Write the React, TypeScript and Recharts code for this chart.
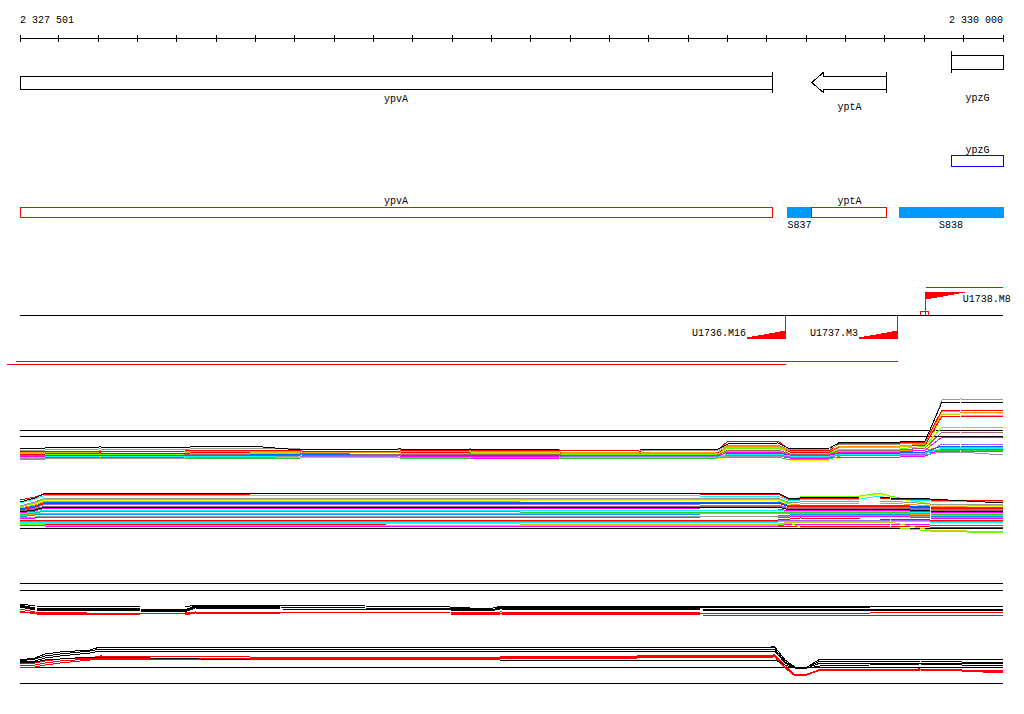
import {
  ComposedChart,
  LineChart,
  Line,
  XAxis,
  YAxis,
  ReferenceArea,
  ReferenceLine,
  ReferenceDot,
} from "recharts";

const FONT = '"Liberation Mono", "DejaVu Sans Mono", monospace';

// genome window shown
const START = 2327501;
const END = 2330000;
const AXIS_TICKS = [
  2327501, 2327600, 2327700, 2327800, 2327900, 2328000, 2328100, 2328200,
  2328300, 2328400, 2328500, 2328600, 2328700, 2328800, 2328900, 2329000,
  2329100, 2329200, 2329300, 2329400, 2329500, 2329600, 2329700, 2329800,
  2329900, 2330000,
];

// annotated genes (clipped to the window)
const GENES = ["ypvA", "yptA", "ypzG"];
const GENE_FROM = [2327501, 2329514, 2329870];
const GENE_TO = [2329413, 2329705, 2330000];
const GENE_STRAND = ["-", "-", "+"];

// second annotation row
const ALT_GENES = ["ypzG"];
const ALT_FROM = [2329870];
const ALT_TO = [2330000];

// coding regions and segments
const CDS = ["ypvA", "yptA"];
const CDS_FROM = [2327501, 2329514];
const CDS_TO = [2329413, 2329705];
const SEGMENTS = ["S837", "S838"];
const SEG_FROM = [2329451, 2329736];
const SEG_TO = [2329514, 2330000];

// transcription units
const TUS = ["U1736.M16", "U1737.M3", "U1738.M8"];
const TU_START = [2329448, 2329733, 2329804];
const TU_END = [2327468, 2327491, 2330000];
const TU_STRAND = ["-", "-", "+"];
const SITE_FROM = [2329791];
const SITE_TO = [2329811];

// expression panel A, upper bundle
const A_UP_X = [
  2327501, 2327565, 2327704, 2327920, 2327946, 2328086, 2328213, 2328467,
  2328645, 2328874, 2329077, 2329275, 2329301, 2329428, 2329458, 2329560,
  2329586, 2329738, 2329802, 2329845, 2329891, 2330000,
];
const A_UP_COLORS = [
  "#ffffff", "#0099ff", "#ffff00", "#ff00ff", "#33cc33", "#999999", "#ff9900",
  "#9966ff", "#00ffff", "#0066ff", "#ff00ff", "#996666", "#66ff00", "#cccc00",
  "#ff0000", "#ff9900", "#ff0000", "#999999", "#000000",
];
const A_UP = [
  [8.5, 8.5, 8.6, 8.5, 8.5, 8.5, 8.4, 8.5, 8.6, 8.5, 8.4, 8.5, 8.8, 8.8, 8.5, 8.5, 8.8, 8.8, 8.9, 9.0, 9.0, 9.0],
  [8.4, 8.4, 8.3, 8.4, 8.4, 8.4, 8.5, 8.4, 8.3, 8.3, 8.4, 8.3, 8.6, 8.6, 8.4, 8.4, 8.6, 8.6, 8.7, 8.9, 8.9, 8.8],
  [8.2, 8.2, 8.3, 8.2, 8.2, 8.2, 8.1, 8.1, 8.2, 8.1, 8.2, 8.1, 8.3, 8.3, 8.0, 8.0, 8.2, 8.3, 8.4, 12.7, 12.7, 12.6],
  [8.3, 8.3, 8.2, 8.3, 8.2, 8.2, 8.3, 8.3, 8.1, 8.2, 8.3, 8.2, 8.4, 8.4, 8.2, 8.2, 8.3, 8.3, 8.4, 9.1, 9.1, 9.1],
  [8.1, 8.1, 8.2, 8.1, 8.2, 8.2, 8.1, 8.1, 8.2, 8.2, 8.1, 8.2, 8.3, 8.3, 8.0, 8.1, 8.4, 8.7, 8.8, 9.0, 9.0, 8.9],
  [8.2, 8.2, 8.2, 8.2, 8.3, 8.3, 8.4, 8.2, 8.3, 8.2, 8.3, 8.3, 8.4, 8.4, 8.3, 8.3, 8.5, 8.5, 8.5, 8.8, 8.8, 8.5],
  [8.7, 8.7, 8.6, 8.7, 8.7, 8.7, 8.8, 8.7, 8.6, 8.6, 8.7, 8.6, 8.9, 8.9, 8.6, 8.6, 8.9, 8.9, 9.0, 9.3, 9.3, 9.3],
  [8.4, 8.4, 8.5, 8.4, 8.3, 8.3, 8.3, 8.4, 8.5, 8.4, 8.3, 8.4, 8.5, 8.5, 8.3, 8.3, 8.5, 8.5, 8.6, 9.6, 9.6, 9.5],
  [8.3, 8.3, 8.4, 8.3, 8.4, 8.4, 8.2, 8.3, 8.4, 8.3, 8.2, 8.3, 8.6, 8.6, 8.4, 8.4, 8.6, 8.6, 8.7, 9.2, 9.2, 9.2],
  [8.5, 8.5, 8.4, 8.5, 8.5, 8.5, 8.6, 8.5, 8.4, 8.5, 8.6, 8.5, 8.7, 8.7, 8.5, 8.5, 8.7, 8.7, 8.8, 9.4, 9.4, 9.3],
  [8.4, 8.4, 8.5, 8.4, 8.5, 8.5, 8.4, 8.4, 8.3, 8.4, 8.5, 8.4, 8.8, 8.8, 8.5, 8.5, 8.8, 8.8, 9.0, 10.3, 10.3, 10.3],
  [8.5, 8.5, 8.6, 8.5, 8.6, 8.6, 8.7, 8.5, 8.6, 8.5, 8.6, 8.5, 9.0, 9.0, 8.6, 8.6, 9.0, 9.0, 9.2, 10.8, 10.8, 10.7],
  [8.6, 8.6, 8.5, 8.6, 8.7, 8.7, 8.6, 8.6, 8.7, 8.6, 8.5, 8.6, 9.2, 9.2, 8.7, 8.7, 9.1, 9.1, 9.4, 11.3, 11.3, 11.2],
  [8.7, 8.7, 8.8, 8.8, 8.8, 8.8, 8.7, 8.7, 8.8, 8.7, 8.8, 8.7, 9.3, 9.3, 8.8, 8.8, 9.3, 9.3, 9.5, 12.6, 12.5, 12.4],
  [8.6, 8.6, 8.7, 8.6, 8.8, 8.8, 8.9, 8.8, 8.7, 8.7, 8.8, 8.7, 9.5, 9.5, 8.8, 8.8, 9.4, 9.4, 9.5, 12.4, 12.4, 12.3],
  [8.8, 8.8, 8.9, 8.8, 8.9, 8.9, 8.8, 8.8, 8.9, 8.8, 8.7, 8.8, 9.4, 9.4, 8.9, 8.9, 9.4, 9.4, 9.6, 12.9, 12.8, 12.8],
  [8.9, 8.9, 8.8, 8.9, 9.0, 9.0, 8.9, 8.9, 9.0, 8.9, 9.0, 9.0, 9.9, 9.9, 9.0, 9.0, 9.7, 9.7, 9.8, 13.0, 13.0, 12.9],
  [9.0, 9.0, 9.1, 9.0, 9.2, 9.2, 9.1, 9.0, 9.1, 9.0, 9.0, 9.0, 9.5, 9.5, 9.0, 9.1, 9.6, 9.6, 9.7, 14.0, 14.1, 14.0],
  [9.1, 9.2, 9.3, 9.2, 9.4, 9.4, 9.0, 9.1, 9.0, 9.1, 9.1, 9.1, 9.6, 9.7, 9.1, 9.2, 9.8, 9.8, 9.9, 13.8, 13.8, 13.7],
];

// expression panel A, lower bundle
const A_LOW_X = [
  2327501, 2327539, 2327565, 2328086, 2328772, 2329230, 2329428, 2329458,
  2329484, 2329636, 2329687, 2329713, 2329814, 2330000,
];
const A_LOW_COLORS = [
  "#ffffff", "#ffffff", "#ff0000", "#ff00ff", "#996666", "#66ff00", "#cccc00",
  "#00ffff", "#9966ff", "#ff0000", "#ff00ff", "#999999", "#0099ff", "#ff9900",
  "#33cc33", "#00ffff", "#ff00ff", "#000000", "#996666", "#9966ff", "#ff0000",
  "#0066ff", "#ff9900", "#ffff00", "#66ff00", "#999999", "#00ffff", "#ff0000",
  "#000000",
];
const A_LOW = [
  [3.5, 3.9, 4.3, 4.3, 4.3, 4.2, 4.2, 3.8, 3.9, 4.0, 4.1, 4.0, 3.7, 3.5],
  [2.0, 2.1, 2.1, 2.1, 2.1, 2.1, 2.1, 2.2, 2.3, 2.3, 2.3, 2.3, 2.1, 2.1],
  [1.5, 1.5, 1.6, 1.6, 1.4, 1.4, 1.4, 1.4, 1.4, 1.4, 1.4, 1.4, 1.3, 1.3],
  [1.4, 1.5, 1.4, 1.4, 1.4, 1.4, 1.4, 1.6, 1.6, 1.6, 1.6, 1.6, 1.5, 1.5],
  [2.9, 3.1, 3.4, 3.4, 3.4, 3.4, 3.4, 3.1, 3.2, 3.2, 3.2, 3.2, 3.0, 2.9],
  [1.5, 1.6, 1.5, 1.5, 1.5, 1.5, 1.5, 1.7, 1.3, 1.3, 1.3, 1.3, 0.9, 0.7],
  [1.6, 1.7, 1.7, 1.7, 1.6, 1.6, 1.6, 1.8, 1.8, 1.8, 1.8, 1.8, 1.0, 0.8],
  [1.7, 1.8, 1.8, 1.8, 1.8, 1.8, 1.8, 1.9, 1.9, 1.9, 1.9, 1.9, 1.8, 1.8],
  [1.8, 1.9, 1.9, 1.9, 1.9, 1.9, 1.9, 2.0, 2.0, 2.0, 2.0, 2.0, 1.9, 1.9],
  [1.9, 2.0, 2.0, 2.0, 2.0, 2.0, 2.0, 2.1, 2.2, 2.1, 2.1, 2.1, 2.0, 2.0],
  [2.1, 2.2, 2.3, 2.3, 2.3, 2.2, 2.2, 2.3, 2.4, 2.4, 2.4, 2.4, 2.2, 2.1],
  [2.2, 2.3, 2.4, 2.4, 2.4, 2.4, 2.4, 2.4, 2.5, 2.5, 2.5, 2.5, 2.3, 2.2],
  [2.3, 2.5, 2.6, 2.6, 2.6, 2.5, 2.5, 2.5, 2.6, 2.6, 2.6, 2.6, 2.4, 2.3],
  [2.4, 2.6, 2.7, 2.7, 2.7, 2.7, 2.7, 2.6, 2.7, 2.7, 2.7, 2.7, 2.5, 2.4],
  [2.5, 2.7, 2.9, 2.9, 2.8, 2.8, 2.8, 2.7, 2.8, 2.8, 2.8, 2.8, 2.6, 2.5],
  [2.6, 2.8, 3.0, 3.0, 3.0, 3.0, 3.0, 2.8, 2.9, 2.9, 2.9, 2.9, 2.7, 2.6],
  [2.7, 2.9, 3.2, 3.2, 3.2, 3.1, 3.1, 2.9, 3.0, 3.0, 3.0, 3.0, 2.8, 2.7],
  [2.8, 3.0, 3.3, 3.3, 3.3, 3.3, 3.3, 3.0, 3.1, 3.1, 3.1, 3.1, 2.9, 2.8],
  [2.9, 3.1, 3.4, 3.4, 3.4, 3.4, 3.4, 3.1, 3.2, 3.2, 3.2, 3.2, 3.0, 2.9],
  [3.0, 3.2, 3.6, 3.6, 3.6, 3.5, 3.5, 3.2, 3.3, 3.3, 3.3, 3.3, 3.1, 3.0],
  [3.0, 3.3, 3.7, 3.7, 3.7, 3.7, 3.7, 3.3, 3.4, 3.4, 3.4, 3.4, 3.2, 3.1],
  [3.1, 3.4, 3.8, 3.8, 3.8, 3.8, 3.8, 3.4, 3.5, 3.5, 3.5, 3.5, 3.3, 3.2],
  [3.2, 3.5, 3.9, 3.9, 3.9, 4.0, 3.9, 3.5, 3.6, 3.7, 3.7, 3.7, 3.4, 3.3],
  [3.4, 3.6, 4.0, 4.0, 4.0, 4.0, 4.0, 3.5, 4.2, 4.3, 4.6, 4.3, 3.5, 3.3],
  [3.3, 3.7, 4.1, 4.1, 4.1, 4.1, 4.1, 3.6, 4.3, 4.4, 4.7, 4.4, 3.6, 3.4],
  [3.4, 3.8, 4.2, 4.2, 4.2, 4.2, 4.2, 3.7, 3.8, 3.9, 3.9, 3.9, 3.6, 3.6],
  [3.7, 4.1, 4.5, 4.5, 4.5, 4.4, 4.4, 3.9, 4.0, 4.1, 4.4, 4.1, 3.9, 3.8],
  [4.0, 4.3, 4.6, 4.6, 4.7, 4.6, 4.6, 4.0, 4.1, 4.2, 4.2, 4.1, 4.0, 3.9],
  [3.8, 4.2, 4.7, 4.7, 4.7, 4.7, 4.7, 4.1, 4.2, 4.3, 4.3, 4.2, 4.1, 3.7],
];
const A_REF = [11.0, 10.4, 1.2];

// expression panel B
const B_UP_X = [
  2327501, 2327539, 2327806, 2327920, 2327946, 2328162, 2328594, 2328696,
  2328721, 2329230, 2329662, 2330000,
];
const B_UP_COLORS = ["#ff0000", "#ff0000", "#ff0000", "#000000", "#000000", "#000000", "#000000"];
const B_UP = [
  [8.8, 8.7, 8.7, 8.7, 8.8, 8.8, 8.8, 8.7, 8.8, 8.7, 8.7, 8.8],
  [8.9, 8.6, 8.5, 8.5, 8.7, 8.6, 8.6, 8.5, 8.6, 8.5, 8.4, 8.5],
  [9.1, 8.8, 8.6, 8.6, 8.8, 8.7, 8.7, 8.6, 8.7, 8.7, 8.6, 8.6],
  [9.3, 9.0, 8.9, 8.8, 9.2, 9.1, 9.0, 8.9, 9.1, 9.0, 8.9, 9.0],
  [9.4, 9.1, 9.0, 8.9, 9.3, 9.2, 9.2, 9.0, 9.2, 9.1, 9.0, 9.1],
  [9.5, 9.2, 9.1, 9.0, 9.4, 9.3, 9.1, 8.9, 9.3, 9.3, 9.2, 9.2],
  [9.6, 9.4, 9.3, 9.3, 9.5, 9.5, 9.3, 9.1, 9.4, 9.4, 9.3, 9.4],
];
const B_LOW_X = [
  2327501, 2327539, 2327565, 2327603, 2327679, 2327704, 2328086, 2328721,
  2329420, 2329446, 2329471, 2329502, 2329535, 2329789, 2330000,
];
const B_LOW_COLORS = ["#ff0000", "#ff0000", "#ff0000", "#000000", "#000000", "#000000", "#000000"];
const B_LOW = [
  [3.2, 3.3, 3.5, 3.7, 4.0, 4.1, 4.1, 4.1, 4.3, 3.2, 2.4, 2.5, 3.0, 3.1, 2.7],
  [3.4, 3.5, 3.7, 3.9, 4.1, 4.2, 4.2, 4.2, 4.4, 3.3, 2.5, 2.6, 3.0, 3.0, 2.8],
  [3.6, 3.7, 3.9, 4.1, 4.2, 4.4, 4.3, 4.3, 4.5, 3.5, 2.5, 2.5, 3.1, 3.1, 2.9],
  [3.7, 3.8, 4.0, 4.1, 4.3, 4.3, 4.0, 4.0, 4.0, 3.5, 3.2, 3.2, 3.4, 3.6, 3.4],
  [3.8, 3.9, 4.2, 4.4, 4.7, 4.9, 4.9, 4.9, 4.9, 3.7, 3.2, 3.2, 3.7, 3.7, 3.6],
  [3.9, 4.1, 4.4, 4.6, 4.9, 5.1, 5.1, 5.1, 5.1, 3.8, 3.3, 3.3, 3.9, 3.9, 3.7],
  [4.0, 4.2, 4.6, 4.8, 5.0, 5.3, 5.3, 5.2, 5.3, 4.0, 3.3, 3.3, 4.1, 4.1, 4.0],
];
const B_REF = [11.7, 11.0, 3.3, 1.7];

// track rows of the annotation panel (pixels from the top of that panel)
const ROW = {
  plusTop: 55, plusBot: 69, minusTop: 76, minusBot: 89,
  altTop: 155, altBot: 166, altLabel: 149,
  cdsTop: 207, cdsBot: 217, cdsLabel: 200, segLabel: 224,
  tuBase: 315, tuPlusTop: 292, tuPlusBot: 299, tuMinusTop: 331, tuMinusBot: 338,
  tuPlusLine: 287, tuMinusLabel: 332, tuPlusLabel: 298, siteTop: 311,
};
const GENE_LABEL_ROW = [98, 106, 97];
const TU_LINE_ROW = [364, 361, 287];
const MARK_BP = 99;

const rows = (xs: number[], ys: number[]) => xs.map((x, i) => ({ x, y: ys[i] }));
const spaced = (v: number) => String(v).replace(/\B(?=(\d{3})+(?!\d))/g, " ");
const mid = (a: number, b: number) => (a + b) / 2;
const MARGIN = { top: 0, right: 21, bottom: 0, left: 20 };

function AxisTick(props: any) {
  const { x, y, payload } = props;
  const v = payload.value;
  return (
    <g>
      <line x1={x} x2={x} y1={y - 3} y2={y + 4} stroke="#000" />
      {(v === START || v === END) && (
        <text
          x={x}
          y={y - 18}
          textAnchor={v === START ? "start" : "end"}
          dominantBaseline="central"
          fontFamily={FONT}
          fontSize={10}
          fill="#000"
        >
          {spaced(v)}
        </text>
      )}
    </g>
  );
}

function GeneGlyph(props: any) {
  const { x, y, width: w, height: h, strand, arrow } = props;
  const bar = strand === "+" ? x : x + w;
  let body;
  if (arrow) {
    const hx = x + 12;
    body = (
      <polygon
        points={`${x},${y + h / 2} ${hx},${y - 4} ${hx},${y} ${x + w},${y} ${x + w},${y + h} ${hx},${y + h} ${hx},${y + h + 4}`}
        fill="#fff"
        stroke="#000"
      />
    );
  } else {
    body = <rect x={x} y={y} width={w} height={h} fill="#fff" stroke="#000" />;
  }
  return (
    <g>
      {body}
      <line x1={bar} x2={bar} y1={y - 4} y2={y + h + 4} stroke="#000" />
    </g>
  );
}

function Wedge(props: any) {
  const { x, y, width: w, height: h, strand } = props;
  const pts =
    strand === "+"
      ? `${x},${y} ${x + w},${y} ${x},${y + h}`
      : `${x},${y + h} ${x + w},${y + h} ${x + w},${y}`;
  return <polygon points={pts} fill="#ff0000" stroke="#ff0000" />;
}

const lbl = (value: string, position: string, offset = 0) => ({
  value,
  position,
  offset,
  fontSize: 10,
  fontFamily: FONT,
  fill: "#000",
});

function Annotation() {
  return (
    <ComposedChart width={1024} height={372} data={[{ x: START }, { x: END }]} margin={MARGIN}>
      <XAxis
        dataKey="x"
        type="number"
        orientation="top"
        domain={[START, END]}
        ticks={AXIS_TICKS}
        interval={0}
        height={38}
        tickSize={0}
        tickMargin={0}
        tickLine={false}
        axisLine={{ stroke: "#000" }}
        tick={(p: any) => <AxisTick {...p} />}
        allowDataOverflow
      />
      <YAxis hide type="number" domain={[38, 372]} reversed allowDataOverflow />

      {GENES.map((g, i) => {
        const plus = GENE_STRAND[i] === "+";
        return (
          <ReferenceArea
            key={g}
            x1={GENE_FROM[i]}
            x2={GENE_TO[i]}
            y1={plus ? ROW.plusTop : ROW.minusTop}
            y2={plus ? ROW.plusBot : ROW.minusBot}
            ifOverflow="visible"
            shape={(p: any) => <GeneGlyph {...p} strand={GENE_STRAND[i]} arrow={g === "yptA"} />}
          />
        );
      })}
      {GENES.map((g, i) => (
        <ReferenceDot key={g + "l"} x={mid(GENE_FROM[i], GENE_TO[i])} y={GENE_LABEL_ROW[i]} r={0} fill="none" stroke="none" ifOverflow="visible" label={lbl(g, "center")} />
      ))}

      {ALT_GENES.map((g, i) => (
        <ReferenceArea key={g + "a"} x1={ALT_FROM[i]} x2={ALT_TO[i]} y1={ROW.altTop} y2={ROW.altBot} fill="none" fillOpacity={0} stroke="#0000ff" strokeOpacity={1} ifOverflow="visible" />
      ))}
      {ALT_GENES.map((g, i) => (
        <ReferenceDot key={g + "al"} x={mid(ALT_FROM[i], ALT_TO[i])} y={ROW.altLabel} r={0} fill="none" stroke="none" ifOverflow="visible" label={lbl(g, "center")} />
      ))}

      {SEGMENTS.map((s, i) => (
        <ReferenceArea key={s} x1={SEG_FROM[i]} x2={SEG_TO[i]} y1={ROW.cdsTop} y2={ROW.cdsBot} fill="#0099ff" fillOpacity={1} stroke="#0099ff" strokeOpacity={1} ifOverflow="visible" />
      ))}
      {CDS.map((c, i) => (
        <ReferenceArea key={c + "c"} x1={CDS_FROM[i]} x2={CDS_TO[i]} y1={ROW.cdsTop} y2={ROW.cdsBot} fill="none" fillOpacity={0} stroke="#ff0000" strokeOpacity={1} ifOverflow="visible" />
      ))}
      {CDS.map((c, i) => (
        <ReferenceDot key={c + "cl"} x={mid(CDS_FROM[i], CDS_TO[i])} y={ROW.cdsLabel} r={0} fill="none" stroke="none" ifOverflow="visible" label={lbl(c, "center")} />
      ))}
      {SEGMENTS.map((s, i) => (
        <ReferenceDot key={s + "l"} x={mid(SEG_FROM[i], SEG_TO[i])} y={ROW.segLabel} r={0} fill="none" stroke="none" ifOverflow="visible" label={lbl(s, "center")} />
      ))}

      <ReferenceLine y={ROW.tuBase} stroke="#000" />
      {TUS.map((t, i) => {
        const plus = TU_STRAND[i] === "+";
        const s = TU_START[i];
        const e = plus ? s + MARK_BP : s - MARK_BP;
        return (
          <ReferenceArea
            key={t}
            x1={Math.min(s, e)}
            x2={Math.max(s, e)}
            y1={plus ? ROW.tuPlusTop : ROW.tuMinusTop}
            y2={plus ? ROW.tuPlusBot : ROW.tuMinusBot}
            ifOverflow="visible"
            shape={(p: any) => <Wedge {...p} strand={TU_STRAND[i]} />}
          />
        );
      })}
      {TUS.map((t, i) => {
        const plus = TU_STRAND[i] === "+";
        return (
          <ReferenceLine
            key={t + "v"}
            segment={[
              { x: TU_START[i], y: ROW.tuBase },
              { x: TU_START[i], y: plus ? ROW.tuPlusTop : ROW.tuMinusBot },
            ]}
            stroke="#ff0000"
            ifOverflow="visible"
          />
        );
      })}
      {TUS.map((t, i) => (
        <ReferenceLine
          key={t + "x"}
          segment={[
            { x: TU_START[i], y: TU_LINE_ROW[i] },
            { x: TU_END[i], y: TU_LINE_ROW[i] },
          ]}
          stroke="#ff0000"
          ifOverflow="visible"
        />
      ))}
      {TUS.map((t, i) => {
        const plus = TU_STRAND[i] === "+";
        return (
          <ReferenceDot
            key={t + "l"}
            x={plus ? TU_START[i] + MARK_BP : TU_START[i] - MARK_BP}
            y={plus ? ROW.tuPlusLabel : ROW.tuMinusLabel}
            r={0}
            fill="none"
            stroke="none"
            ifOverflow="visible"
            label={lbl(t, plus ? "right" : "left", plus ? -2 : 1)}
          />
        );
      })}
      {SITE_FROM.map((s, i) => (
        <ReferenceArea key={"site" + i} x1={s} x2={SITE_TO[i]} y1={ROW.siteTop} y2={ROW.tuBase} fill="none" fillOpacity={0} stroke="#ff0000" strokeOpacity={1} ifOverflow="visible" />
      ))}
    </ComposedChart>
  );
}

function Bundle(props: { height: number; top: number; refs: number[]; groups: [number[], number[][], string[]][] }) {
  const { height, top, refs, groups } = props;
  return (
    <LineChart width={1024} height={height} margin={MARGIN}>
      <XAxis hide dataKey="x" type="number" domain={[START, END]} allowDataOverflow />
      <YAxis hide type="number" domain={[0, top]} allowDataOverflow />
      {refs.map((r) => (
        <ReferenceLine key={"r" + r} y={r} stroke="#000" />
      ))}
      {groups.map(([xs, series, colors], g) =>
        series.map((ys, i) => (
          <Line
            key={g + "-" + i}
            data={rows(xs, ys)}
            dataKey="y"
            type="linear"
            stroke={colors[i]}
            strokeWidth={1}
            dot={false}
            activeDot={false}
            isAnimationActive={false}
          />
        ))
      )}
    </LineChart>
  );
}

export default function App() {
  return (
    <div
      className="gb"
      style={{ position: "absolute", left: 0, top: 0, width: 1024, height: 714, background: "#fff", fontFamily: FONT }}
    >
      <style>{".gb svg { shape-rendering: crispEdges; } .gb svg text { shape-rendering: auto; }"}</style>
      <div style={{ position: "absolute", left: 0, top: 0 }}>
        <Annotation />
      </div>
      <div style={{ position: "absolute", left: 0, top: 380 }}>
        <Bundle
          height={160}
          top={16}
          refs={A_REF}
          groups={[
            [A_UP_X, A_UP, A_UP_COLORS],
            [A_LOW_X, A_LOW, A_LOW_COLORS],
          ]}
        />
      </div>
      <div style={{ position: "absolute", left: 0, top: 570 }}>
        <Bundle
          height={130}
          top={13}
          refs={B_REF}
          groups={[
            [B_UP_X, B_UP, B_UP_COLORS],
            [B_LOW_X, B_LOW, B_LOW_COLORS],
          ]}
        />
      </div>
    </div>
  );
}
